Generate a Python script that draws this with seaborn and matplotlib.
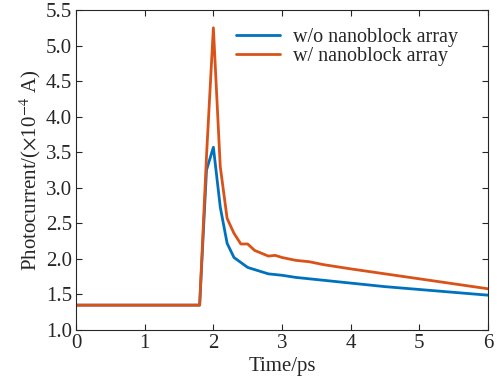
import numpy as np
import pandas as pd
import matplotlib
matplotlib.use('Agg')
import matplotlib.pyplot as plt
import seaborn as sns

# time axis (ps)
time = [0.0, 0.5, 1.0, 1.5, 1.8, 1.9, 2.0, 2.1, 2.2, 2.3, 2.4, 2.5, 2.6, 2.7, 2.8, 2.9,
        3.0, 3.2, 3.4, 3.6, 3.8, 4.0, 4.5, 5.0, 5.5, 6.0]
# photocurrent (x1e-4 A)
without_array = [1.35, 1.35, 1.35, 1.35, 1.35, 3.25, 3.57, 2.73, 2.22, 2.02, 1.95, 1.88, 1.85, 1.82, 1.79, 1.78,
                 1.77, 1.74, 1.72, 1.70, 1.68, 1.66, 1.61, 1.57, 1.53, 1.49]
with_array = [1.35, 1.35, 1.35, 1.35, 1.35, 3.45, 5.25, 3.30, 2.57, 2.36, 2.21, 2.21, 2.12, 2.08, 2.04, 2.05,
              2.02, 1.98, 1.96, 1.92, 1.89, 1.86, 1.79, 1.72, 1.65, 1.58]
labels = ['w/o nanoblock array', 'w/ nanoblock array']

df = pd.DataFrame({
    'time': time * 2,
    'current': without_array + with_array,
    'series': [labels[0]] * len(time) + [labels[1]] * len(time),
})

sns.set_style('ticks')
plt.rcParams['font.family'] = ['Liberation Serif', 'DejaVu Serif']
plt.rcParams['mathtext.fontset'] = 'stix'

fig = plt.figure(figsize=(4.97, 3.86), dpi=100)
ax = fig.add_axes([0.153, 0.145, 0.829, 0.829])

sns.lineplot(data=df, x='time', y='current', hue='series', hue_order=labels,
             palette=['#0072BD', '#D95319'], linewidth=2, ax=ax)

ax.set_xlim(0, 6)
ax.set_ylim(1.0, 5.5)
ax.set_xticks(np.arange(0, 7, 1))
ax.set_yticks(np.arange(1.0, 5.51, 0.5))
ax.set_yticklabels([f'{v:.1f}' for v in np.arange(1.0, 5.51, 0.5)])
ax.tick_params(direction='in', top=True, right=True, labelsize=15, length=4, width=0.8, pad=3)
for s in ax.spines.values():
    s.set_visible(True)
    s.set_linewidth(0.8)
ax.set_xlabel('Time/ps', fontsize=15, labelpad=3)
ax.set_ylabel(r'Photocurrent/($\times$10$^{-4}$ A)', fontsize=15, labelpad=2)

ax.legend(loc='upper right', frameon=False, fontsize=14.5, handlelength=2.2,
          handletextpad=0.6, borderaxespad=0.5, labelspacing=0.0, bbox_to_anchor=(0.97, 1.0))

fig.savefig('out.png', dpi=100)
